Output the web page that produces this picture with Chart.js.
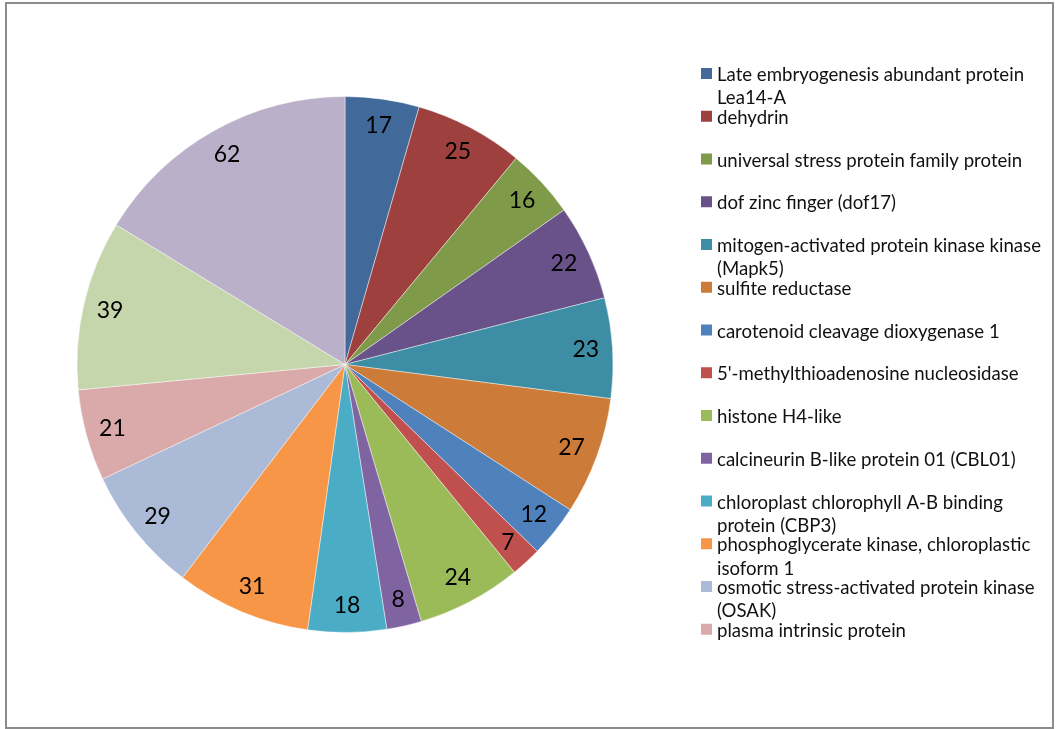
<!DOCTYPE html>
<html>
<head>
<meta charset="utf-8">
<title>Protein counts</title>
<script src="https://cdn.jsdelivr.net/npm/chart.js@4.4.1/dist/chart.umd.min.js"></script>
<style>
  html, body { margin: 0; padding: 0; background: #ffffff; }
  canvas { display: block; }
</style>
</head>
<body>
<canvas id="pie" width="1057" height="729"></canvas>
<script>
// Protein names (legend lists the first fourteen); "\n" marks where a name wraps
const categories = [
  "Late embryogenesis abundant protein\nLea14-A",
  "dehydrin",
  "universal stress protein family protein",
  "dof zinc finger (dof17)",
  "mitogen-activated protein kinase kinase\n(Mapk5)",
  "sulfite reductase",
  "carotenoid cleavage dioxygenase 1",
  "5'-methylthioadenosine nucleosidase",
  "histone H4-like",
  "calcineurin B-like protein 01 (CBL01)",
  "chloroplast chlorophyll A-B binding\nprotein (CBP3)",
  "phosphoglycerate kinase, chloroplastic\nisoform 1",
  "osmotic stress-activated protein kinase\n(OSAK)",
  "plasma intrinsic protein"
];

// Count per slice, clockwise from twelve o'clock
const counts = [17, 25, 16, 22, 23, 27, 12, 7, 24, 8, 18, 31, 29, 21, 39, 62];

const sliceColors = [
  "#416a9b", "#9e413e", "#7f9a48", "#69518a", "#3d8da4", "#cc7b38",
  "#4f81bd", "#c0504d", "#9bbb59", "#8064a2", "#4bacc6", "#f79646",
  "#aabad7", "#d9aaa9", "#c6d6ac", "#bab0c9"
];

const LABEL_FONT = "23px Lato, 'DejaVu Sans', sans-serif";
const LEGEND_FONT = "18.6px Lato, 'DejaVu Sans', sans-serif";

// Outer frame around the whole chart
const framePlugin = {
  id: "frame",
  beforeDraw(chart) {
    const ctx = chart.ctx;
    ctx.save();
    ctx.fillStyle = "#ffffff";
    ctx.fillRect(0, 0, chart.width, chart.height);
    ctx.strokeStyle = "#8c8c8c";
    ctx.lineWidth = 2;
    ctx.strokeRect(6, 3, chart.width - 10, chart.height - 4);
    ctx.restore();
  }
};

// Value labels placed near the outer edge of each slice
const valueLabels = {
  id: "valueLabels",
  afterDatasetsDraw(chart) {
    const ctx = chart.ctx;
    const meta = chart.getDatasetMeta(0);
    const values = chart.data.datasets[0].data;
    ctx.save();
    ctx.font = LABEL_FONT;
    ctx.fillStyle = "#000000";
    ctx.textAlign = "center";
    ctx.textBaseline = "middle";
    meta.data.forEach((arc, i) => {
      const p = arc.getProps(["x", "y", "startAngle", "endAngle", "outerRadius"], true);
      const mid = (p.startAngle + p.endAngle) / 2;
      const r = p.outerRadius * 0.9;
      ctx.fillText(String(values[i]), p.x + Math.cos(mid) * r, p.y + Math.sin(mid) * r);
    });
    ctx.restore();
  }
};

// Legend column on the right
const sideLegend = {
  id: "sideLegend",
  afterDraw(chart) {
    const ctx = chart.ctx;
    const names = chart.data.labels;
    const colors = chart.data.datasets[0].backgroundColor;
    const left = 701, firstBaseline = 81, step = 42.75, lineGap = 23.3;
    ctx.save();
    ctx.font = LEGEND_FONT;
    ctx.textAlign = "left";
    ctx.textBaseline = "alphabetic";
    names.forEach((name, i) => {
      const base = firstBaseline + step * i;
      ctx.fillStyle = colors[i];
      ctx.fillRect(left, base - 13, 11, 11);
      ctx.fillStyle = "#111111";
      name.split("\n").forEach((line, j) => {
        ctx.fillText(line, left + 16, base + j * lineGap);
      });
    });
    ctx.restore();
  }
};

new Chart(document.getElementById("pie"), {
  type: "pie",
  data: {
    labels: categories,
    datasets: [{
      data: counts,
      backgroundColor: sliceColors,
      borderColor: "rgba(255,255,255,0.55)",
      borderWidth: 0.8
    }]
  },
  options: {
    responsive: false,
    animation: false,
    radius: 268,
    layout: { padding: { left: 77, right: 444, top: 96, bottom: 96 } },
    plugins: {
      legend: { display: false },
      tooltip: { enabled: false }
    }
  },
  plugins: [framePlugin, valueLabels, sideLegend]
});
</script>
</body>
</html>
